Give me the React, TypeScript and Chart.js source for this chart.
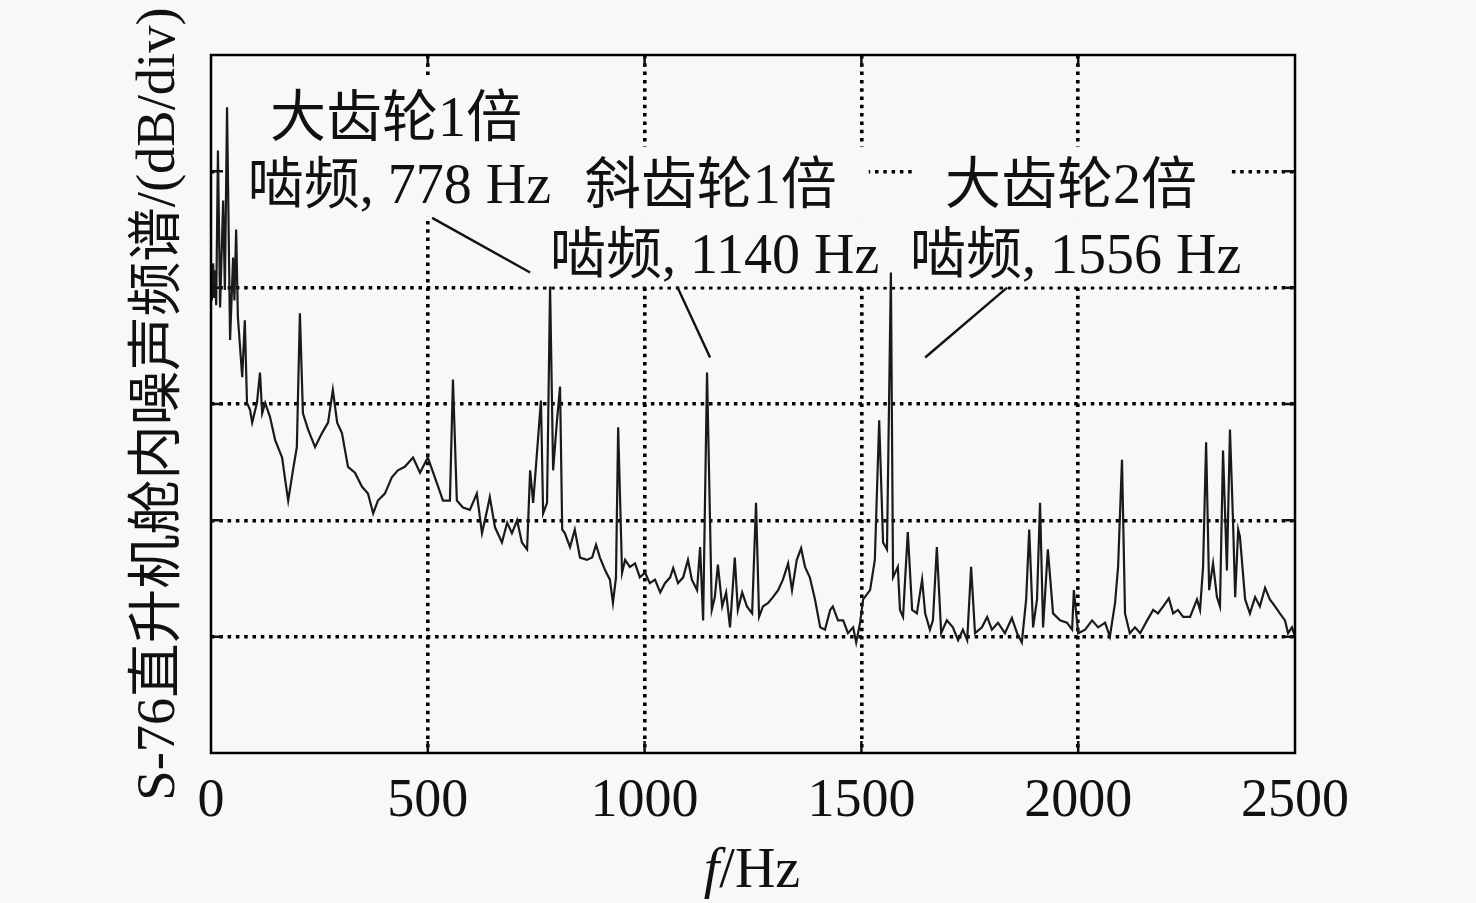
import { useEffect, useRef } from 'react';
import { Chart, registerables } from 'chart.js';

Chart.register(...registerables);

// ---- data (frequency in Hz, level in dB/div units) ----
const freqHz = [
  0, 2, 5, 7, 9, 12, 16, 21, 28, 32, 37, 44, 51, 54, 58, 62, 72, 78, 83, 90,
  95, 106, 113, 118, 125, 136, 148, 164, 171, 178, 189, 198, 205, 212, 224, 240, 256, 270, 281, 291,
  302, 316, 332, 348, 362, 374, 385, 401, 417, 431, 447, 466, 482, 500, 521, 535, 551, 558, 567, 581,
  597, 613, 625, 637, 643, 655, 671, 683, 694, 706, 717, 729, 736, 743, 754, 761, 766, 775, 782, 789,
  798, 805, 810, 816, 828, 839, 851, 867, 879, 888, 897, 909, 920, 927, 934, 939, 948, 955, 966, 978,
  989, 1001, 1012, 1024, 1036, 1047, 1059, 1066, 1077, 1089, 1100, 1109, 1121, 1128, 1135, 1144, 1155, 1162, 1169, 1179,
  1188, 1197, 1208, 1215, 1225, 1236, 1248, 1257, 1264, 1273, 1285, 1296, 1308, 1319, 1331, 1340, 1351, 1361, 1370, 1381,
  1393, 1405, 1416, 1428, 1434, 1446, 1458, 1469, 1481, 1488, 1497, 1504, 1520, 1531, 1541, 1550, 1559, 1568, 1573, 1584,
  1589, 1596, 1607, 1617, 1628, 1640, 1647, 1658, 1665, 1674, 1684, 1697, 1711, 1723, 1734, 1744, 1753, 1762, 1778, 1790,
  1801, 1815, 1831, 1847, 1859, 1870, 1880, 1887, 1896, 1905, 1912, 1919, 1930, 1942, 1958, 1974, 1986, 1990, 2000, 2016,
  2032, 2046, 2062, 2073, 2085, 2092, 2101, 2108, 2119, 2131, 2143, 2159, 2173, 2184, 2196, 2209, 2219, 2230, 2242, 2258,
  2274, 2281, 2288, 2295, 2302, 2311, 2320, 2327, 2334, 2343, 2350, 2357, 2362, 2369, 2373, 2385, 2396, 2408, 2419, 2431,
  2442, 2454, 2465, 2477, 2484, 2493, 2500,
];
const level = [
  3.98, 3.89, 4.21, 3.92, 4.15, 3.85, 5.18, 3.83, 4.75, 3.98, 5.55, 3.55, 4.26, 3.89, 4.50, 3.75, 3.23, 3.72, 3.01, 2.95,
  2.84, 3.01, 3.27, 2.92, 3.01, 2.89, 2.69, 2.54, 2.35, 2.17, 2.43, 2.63, 3.78, 2.92, 2.78, 2.63, 2.75, 2.84, 3.12, 2.84,
  2.75, 2.46, 2.41, 2.29, 2.23, 2.06, 2.17, 2.23, 2.37, 2.43, 2.46, 2.54, 2.41, 2.54, 2.32, 2.17, 2.17, 3.21, 2.17, 2.11,
  2.09, 2.23, 1.89, 2.09, 2.20, 1.94, 1.81, 1.98, 1.89, 2.00, 1.81, 1.75, 2.43, 2.15, 2.69, 3.03, 2.06, 2.15, 4.01, 2.43,
  2.86, 3.15, 1.92, 1.89, 1.77, 1.92, 1.68, 1.66, 1.68, 1.79, 1.68, 1.57, 1.49, 1.29, 1.51, 2.80, 1.55, 1.66, 1.60, 1.63,
  1.51, 1.55, 1.46, 1.49, 1.38, 1.46, 1.51, 1.59, 1.46, 1.51, 1.66, 1.49, 1.40, 1.77, 1.14, 3.27, 1.23, 1.34, 1.62, 1.26,
  1.38, 1.08, 1.68, 1.23, 1.38, 1.26, 1.20, 2.15, 1.17, 1.26, 1.29, 1.34, 1.40, 1.49, 1.63, 1.40, 1.66, 1.76, 1.60, 1.51,
  1.32, 1.08, 1.06, 1.23, 1.26, 1.14, 1.14, 1.03, 1.08, 0.95, 1.12, 1.32, 1.40, 1.66, 2.86, 1.81, 1.75, 4.13, 1.51, 1.60,
  1.23, 1.17, 1.90, 1.23, 1.20, 1.49, 1.20, 1.06, 1.14, 1.77, 1.03, 1.14, 1.08, 0.97, 1.06, 0.97, 1.60, 1.03, 1.08, 1.17,
  1.06, 1.12, 1.03, 1.16, 1.03, 0.95, 1.32, 1.92, 1.08, 1.32, 2.15, 1.08, 1.75, 1.20, 1.14, 1.12, 1.06, 1.40, 1.03, 1.06,
  1.14, 1.08, 1.12, 1.00, 1.29, 1.60, 2.52, 1.20, 1.03, 1.08, 1.03, 1.14, 1.23, 1.20, 1.26, 1.33, 1.20, 1.23, 1.17, 1.17,
  1.32, 1.23, 1.60, 2.67, 1.40, 1.63, 1.34, 1.26, 2.60, 1.57, 2.78, 2.00, 1.34, 1.92, 1.86, 1.32, 1.20, 1.34, 1.26, 1.42,
  1.32, 1.26, 1.20, 1.14, 1.03, 1.08, 1.00,
];

const xTickValues = [0, 500, 1000, 1500, 2000, 2500];
const yGridValues = [1, 2, 3, 4, 5];

// ---- annotations ----
const annText = ['大齿轮1倍', '啮频, 778 Hz', '斜齿轮1倍', '啮频, 1140 Hz', '大齿轮2倍', '啮频, 1556 Hz'];
const annHz = [136, 85, 862, 782, 1693, 1612];
const annLevel = [5.43, 4.85, 4.85, 4.25, 4.85, 4.25];
const leaderFromHz = [510, 1075, 1836];
const leaderFromLevel = [4.6, 4.01, 4.0];
const leaderToHz = [736, 1151, 1647];
const leaderToLevel = [4.13, 3.4, 3.4];

const yTitle = 'S-76直升机舱内噪声频谱/(dB/div)';
const xTitleItalic = 'f';
const xTitleRest = '/Hz';

const BG = '#f8f8f8';
const FONT = '"Liberation Serif", "Noto Sans CJK SC", serif';
const INK = '#111111';

const decorPlugin = {
  id: 'decor',
  beforeDatasetsDraw(chart: any) {
    const { ctx } = chart;
    const xs = chart.scales.x;
    const ys = chart.scales.y;
    ctx.save();
    ctx.font = `56px ${FONT}`;
    ctx.textBaseline = 'middle';
    ctx.textAlign = 'left';
    const padX = 32;
    annText.forEach((t, i) => {
      const px = xs.getPixelForValue(annHz[i]);
      const py = ys.getPixelForValue(annLevel[i]);
      const w = ctx.measureText(t).width;
      ctx.fillStyle = BG;
      ctx.fillRect(px - padX, py - 42, w + padX * 2, 70);
    });
    ctx.fillStyle = INK;
    annText.forEach((t, i) => {
      const px = xs.getPixelForValue(annHz[i]);
      const py = ys.getPixelForValue(annLevel[i]);
      ctx.fillText(t, px, py);
    });
    ctx.restore();
  },
  afterDraw(chart: any) {
    const { ctx, chartArea } = chart;
    const xs = chart.scales.x;
    const ys = chart.scales.y;
    const { left, right, top, bottom } = chartArea;
    ctx.save();
    // leader lines
    ctx.strokeStyle = INK;
    ctx.lineWidth = 2.4;
    leaderFromHz.forEach((h, i) => {
      ctx.beginPath();
      ctx.moveTo(xs.getPixelForValue(h), ys.getPixelForValue(leaderFromLevel[i]));
      ctx.lineTo(xs.getPixelForValue(leaderToHz[i]), ys.getPixelForValue(leaderToLevel[i]));
      ctx.stroke();
    });
    // inward tick marks
    ctx.lineWidth = 2.5;
    const tl = 12;
    yGridValues.forEach((v) => {
      const py = ys.getPixelForValue(v);
      ctx.beginPath();
      ctx.moveTo(left, py);
      ctx.lineTo(left + tl, py);
      ctx.moveTo(right, py);
      ctx.lineTo(right - tl, py);
      ctx.stroke();
    });
    xTickValues.slice(1, -1).forEach((v) => {
      const px = xs.getPixelForValue(v);
      ctx.beginPath();
      ctx.moveTo(px, bottom);
      ctx.lineTo(px, bottom - tl);
      ctx.moveTo(px, top);
      ctx.lineTo(px, top + tl);
      ctx.stroke();
    });
    // frame
    ctx.lineWidth = 2.5;
    ctx.strokeStyle = '#000';
    ctx.strokeRect(left, top, right - left, bottom - top);
    // x title
    ctx.fillStyle = INK;
    ctx.textBaseline = 'alphabetic';
    ctx.textAlign = 'left';
    ctx.font = `italic 56px ${FONT}`;
    const wI = ctx.measureText(xTitleItalic).width;
    ctx.font = `56px ${FONT}`;
    const wR = ctx.measureText(xTitleRest).width;
    const cx = (left + right) / 2 - 1;
    const startX = cx - (wI + wR) / 2;
    ctx.font = `italic 56px ${FONT}`;
    ctx.fillText(xTitleItalic, startX, 887);
    ctx.font = `56px ${FONT}`;
    ctx.fillText(xTitleRest, startX + wI, 887);
    // y title
    ctx.translate(160, 404);
    ctx.rotate(-Math.PI / 2);
    ctx.textAlign = 'center';
    ctx.textBaseline = 'middle';
    ctx.font = `54.5px ${FONT}`;
    ctx.fillText(yTitle, 0, 0);
    ctx.restore();
  },
};

export default function App() {
  const ref = useRef<HTMLCanvasElement | null>(null);

  useEffect(() => {
    if (!ref.current) return;
    const points = freqHz.map((f, i) => ({ x: f, y: level[i] }));
    const edgeTransparent = (max: number) => (c: any) =>
      c.tick && (c.tick.value === 0 || c.tick.value === max) ? 'rgba(0,0,0,0)' : '#000';
    const chart = new Chart(ref.current, {
      type: 'line',
      data: {
        datasets: [
          {
            data: points,
            borderColor: '#1a1a1a',
            borderWidth: 2.2,
            pointRadius: 0,
            tension: 0,
            fill: false,
          },
        ],
      },
      options: {
        animation: false,
        responsive: false,
        devicePixelRatio: 1,
        layout: { padding: { left: 211, right: 181, top: 55, bottom: 0 } },
        plugins: { legend: { display: false }, tooltip: { enabled: false } },
        scales: {
          x: {
            type: 'linear',
            min: 0,
            max: 2500,
            afterBuildTicks: (s: any) => {
              s.ticks = xTickValues.map((v) => ({ value: v }));
            },
            afterFit: (s: any) => {
              s.height = 150;
            },
            ticks: {
              font: { family: FONT, size: 54 },
              color: INK,
              padding: 16,
              maxRotation: 0,
              autoSkip: false,
              callback: (v: any) => String(v),
            },
            grid: { color: edgeTransparent(2500), lineWidth: 3.6, drawTicks: false },
            border: { display: false, dash: [3.5, 4.8] },
          },
          y: {
            type: 'linear',
            min: 0,
            max: 6,
            afterBuildTicks: (s: any) => {
              s.ticks = [0, ...yGridValues, 6].map((v) => ({ value: v }));
            },
            afterFit: (s: any) => {
              s.width = 0;
            },
            ticks: { display: false },
            grid: { color: edgeTransparent(6), lineWidth: 3.6, drawTicks: false },
            border: { display: false, dash: [3.5, 4.8] },
          },
        },
      },
      plugins: [decorPlugin],
    });
    return () => chart.destroy();
  }, []);

  return (
    <div style={{ position: 'fixed', left: 0, top: 0, width: 1476, height: 903, background: BG }}>
      <canvas ref={ref} width={1476} height={903} style={{ width: 1476, height: 903, display: 'block' }} />
    </div>
  );
}
